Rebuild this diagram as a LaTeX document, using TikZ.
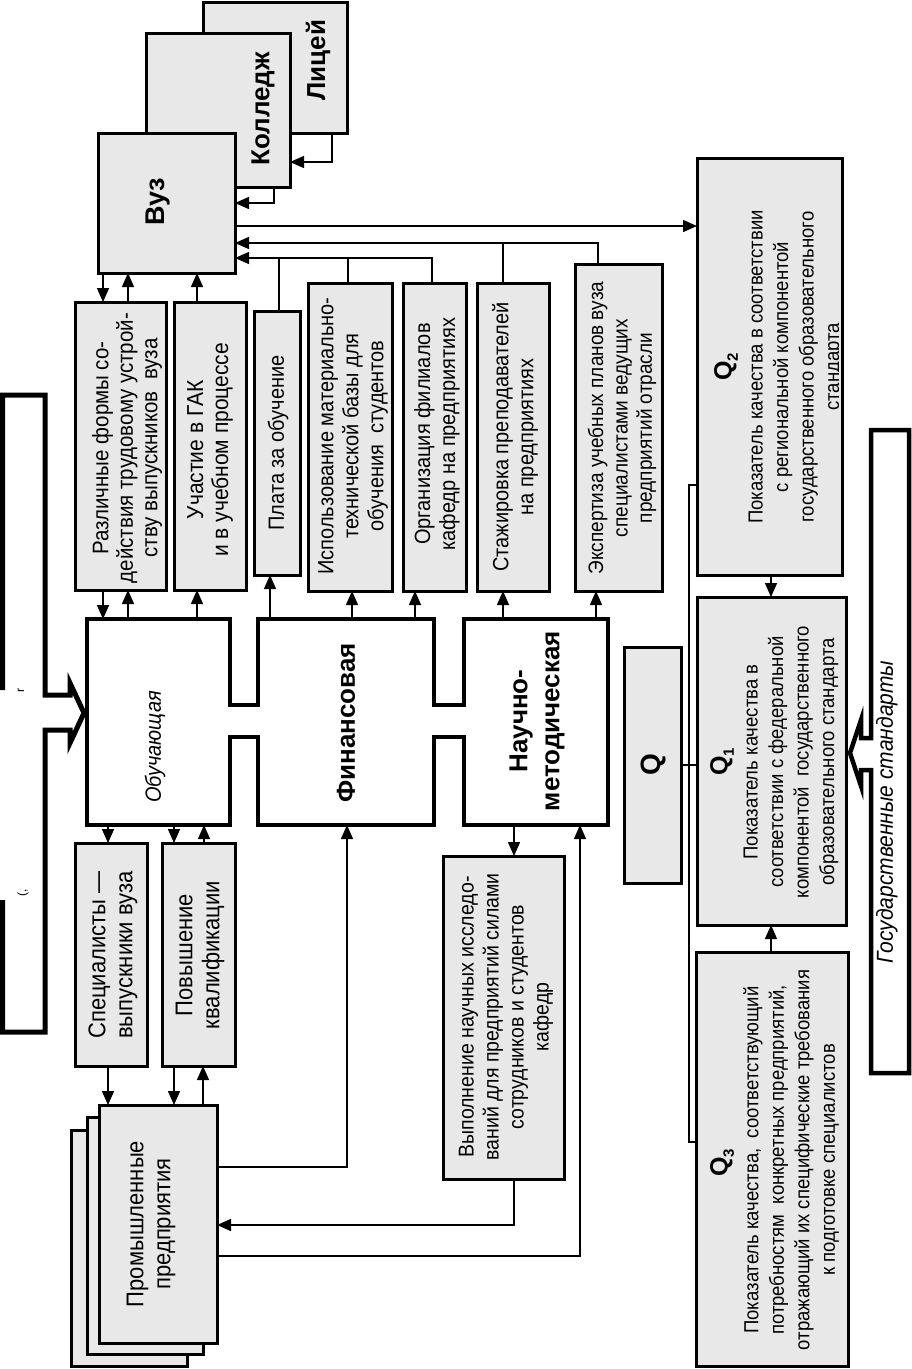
\documentclass[tikz,border=0pt]{standalone}
\usepackage{fontspec}
\setmainfont{Liberation Sans}
\usetikzlibrary{arrows.meta}
\definecolor{boxgray}{RGB}{232,232,232}
\begin{document}
\begin{tikzpicture}[x=1pt,y=-1pt,
  gbox/.style={draw, line width=3pt, fill=boxgray, inner sep=0pt, outer sep=0pt},
  ghost/.style={inner sep=0pt, outer sep=0pt},
  lbl/.style={rotate=90, yscale=1.1, align=center, inner sep=0pt, font=\fontsize{20}{22.7}\selectfont},
  qlbl/.style={rotate=90, yscale=1.1, align=center, inner sep=0pt, font=\fontsize{18.5}{23.2}\selectfont},
  bigl/.style={rotate=90, align=center, inner sep=0pt, font=\fontsize{26}{31}\selectfont\bfseries},
  qsym/.style={rotate=90, inner sep=0pt, font=\fontsize{25}{30}\selectfont\bfseries},
  arr/.style={line width=1.4pt, -{Triangle[length=14pt,width=12pt]}},
  conn/.style={line width=1.4pt},
  heavy/.style={line width=4.5pt, line join=miter}
]
\useasboundingbox (0,0) rectangle (912,1369);

% ---------- big outer frames ----------
\draw[line width=5pt, line join=miter] (2.5,690) -- (2.5,395) -- (45,395) -- (45,695) -- (70,695) -- (70,683) -- (84,713) -- (70,743) -- (70,730) -- (45,730) -- (45,1032) -- (2.5,1032) -- (2.5,900);
\node[rotate=90, inner sep=0pt, font=\fontsize{12}{12}\selectfont] (frag1) at (21,690) {r};
\node[rotate=90, inner sep=0pt, font=\fontsize{12}{12}\selectfont] (frag2) at (23,893) {(,};

\draw[line width=4.5pt, line join=miter, fill=white] (871,738) -- (871,430) -- (909,430) -- (909,1073) -- (871,1073) -- (871,770) -- (861,770) -- (861,786) -- (850,753) -- (861,720) -- (861,738) -- cycle;
\node[rotate=90, yscale=1.1, inner sep=0pt, font=\fontsize{21}{25}\selectfont\itshape] (gosT) at (887,812) {Государственные стандарты};

% ---------- top institutions ----------
\node[gbox, minimum width=144pt, minimum height=131pt] (licey) at (275,67.5) {};
\node[bigl] (liceyT) at (318,60) {Лицей};
\node[gbox, minimum width=144pt, minimum height=154pt] (kolledzh) at (218,110) {};
\node[bigl] (kolledzhT) at (263,109) {Колледж};
\node[gbox, minimum width=137pt, minimum height=140pt] (vuz) at (166.5,203) {};
\node[bigl, font=\fontsize{27}{31}\selectfont\bfseries] (vuzT) at (158,202) {Вуз};

% ---------- upper row of boxes ----------
\node[gbox, minimum width=91pt, minimum height=288pt] (razl) at (120.5,446) {};
\node[lbl, font=\fontsize{20.5}{22.2}\selectfont] (razlT) at (127,448) {Различные формы со-\\действия трудовому устрой-\\ству выпускников\ \ вуза};
\node[gbox, minimum width=72pt, minimum height=288pt] (uchast) at (210,446) {};
\node[lbl, font=\fontsize{21}{22.7}\selectfont] (uchastT) at (210,450) {Участие в ГАК\\и в учебном процессе};
\node[gbox, minimum width=46pt, minimum height=264pt] (plata) at (277,443) {};
\node[lbl] (plataT) at (278,443) {Плата за обучение};
\node[gbox, minimum width=84pt, minimum height=308pt] (ispol) at (350,437) {};
\node[lbl] (ispolT) at (353,436) {Использование материально-\\технической базы для\\обучения\ \ студентов};
\node[gbox, minimum width=63pt, minimum height=308pt] (organ) at (434.5,437) {};
\node[lbl] (organT) at (437,434) {Организация филиалов\\кафедр на предприятиях};
\node[gbox, minimum width=72pt, minimum height=308pt] (stazh) at (513,437) {};
\node[lbl] (stazhT) at (515,437) {Стажировка преподавателей\\на предприятиях};
\node[gbox, minimum width=87pt, minimum height=327pt] (ekspert) at (618.5,427.5) {};
\node[lbl, font=\fontsize{19}{22.2}\selectfont] (ekspertT) at (622,428) {Экспертиза учебных планов вуза\\специалистами ведущих\\предприятий отрасли};

% ---------- central functions ----------
\node[ghost, minimum width=143pt, minimum height=206pt] (obuch) at (158.5,722) {};
\node[ghost, minimum width=176pt, minimum height=206pt] (fin) at (346,722) {};
\node[ghost, minimum width=144pt, minimum height=206pt] (nauch) at (536,722) {};
\draw[heavy, fill=white] (obuch.north west) -- (obuch.north east) -- (obuch.east |- 0,705) -- (fin.west |- 0,705) -- (fin.north west) -- (fin.north east) -- (fin.east |- 0,705) -- (nauch.west |- 0,705) -- (nauch.north west) -- (nauch.north east) -- (nauch.south east) -- (nauch.south west) -- (nauch.west |- 0,737) -- (fin.east |- 0,737) -- (fin.south east) -- (fin.south west) -- (fin.west |- 0,737) -- (obuch.east |- 0,737) -- (obuch.south east) -- (obuch.south west) -- cycle;
\node[lbl, font=\fontsize{20}{22.7}\selectfont\itshape] (obuchT) at (155,747) {Обучающая};
\node[bigl] (finT) at (346,723) {Финансовая};
\node[bigl, font=\fontsize{26}{32}\selectfont\bfseries] (nauchT) at (537,721) {Научно-\\методическая};

% ---------- lower boxes ----------
\node[gbox, minimum width=72pt, minimum height=223pt] (spec) at (111,954.5) {};
\node[lbl, font=\fontsize{22}{24.5}\selectfont] (specT) at (113,955) {Специалисты —\\выпускники вуза};
\node[gbox, minimum width=73pt, minimum height=223pt] (povysh) at (198.5,954.5) {};
\node[lbl, font=\fontsize{22}{24.5}\selectfont] (povyshT) at (200,955) {Повышение\\квалификации};
\node[gbox, minimum width=116pt, minimum height=236pt] (prom3) at (129,1248) {};
\node[gbox, minimum width=116pt, minimum height=237pt] (prom2) at (145,1235.5) {};
\node[gbox, minimum width=118pt, minimum height=238pt] (prom1) at (158,1224) {};
\node[lbl, font=\fontsize{22}{24.5}\selectfont] (promT) at (151,1224) {Промышленные\\предприятия};
\node[gbox, minimum width=121pt, minimum height=323pt] (vyp) at (503.5,1017.5) {};
\node[lbl, font=\fontsize{19.5}{22.7}\selectfont] (vypT) at (506,1017) {Выполнение научных исследо-\\ваний для предприятий силами\\сотрудников и студентов\\кафедр};

% ---------- quality indicators ----------
\node[gbox, minimum width=145pt, minimum height=417pt] (q2) at (769.5,366.5) {};
\node[qsym] (q2Q) at (726,367) {Q\raisebox{-0.25em}{\fontsize{15}{15}\selectfont 2}};
\begin{scope}
\clip (699,160) rectangle (838,573);
\node[qlbl] (q2T) at (796,367) {Показатель качества в соответствии\\с региональной компонентой\\государственного образовательного\\стандарта};
\end{scope}
\node[gbox, minimum width=149pt, minimum height=328pt] (q1) at (771.5,761) {};
\node[qsym] (q1Q) at (722,762) {Q\raisebox{-0.25em}{\fontsize{15}{15}\selectfont 1}};
\node[qlbl] (q1T) at (791,762) {Показатель качества в\\соответствии с федеральной\\компонентой\ \ государственного\\образовательного стандарта};
\node[gbox, minimum width=57pt, minimum height=236pt] (q) at (652.5,765) {};
\node[qsym, font=\fontsize{28}{30}\selectfont\bfseries] (qT) at (653,765) {Q};
\node[gbox, minimum width=152pt, minimum height=414pt] (q3) at (772,1159) {};
\node[qsym] (q3Q) at (722,1163) {Q\raisebox{-0.25em}{\fontsize{15}{15}\selectfont 3}};
\node[qlbl] (q3T) at (791,1160) {Показатель качества,\ \ соответствующий\\потребностям\ \ конкретных предприятий,\\отражающий их специфические требования\\к подготовке специалистов};

% ---------- connectors: top ----------
\draw[arr] (licey.south -| 332,0) |- (kolledzh.east |- 0,162);
\draw[arr] (kolledzh.south -| 274,0) |- (vuz.east |- 0,203);
\draw[arr] (vuz.east |- 0,226) -- (q2.west |- 0,226);
\draw[arr] (ekspert.north -| 598,0) |- (vuz.east |- 0,243);
\draw[conn] (stazh.north -| 503,0) -- (503,243);
\draw[arr] (organ.north -| 432,0) |- (vuz.east |- 0,258);
\draw[conn] (ispol.north -| 348,0) -- (348,258);
\draw[conn] (plata.north -| 279,0) -- (279,258);

\draw[arr] (vuz.south -| 103,0) -- (razl.north -| 103,0);
\draw[arr] (razl.north -| 128,0) -- (vuz.south -| 128,0);
\draw[arr] (uchast.north -| 197,0) -- (vuz.south -| 197,0);

\draw[arr] (razl.south -| 103,0) -- (obuch.north -| 103,0);
\draw[arr] (obuch.north -| 128,0) -- (razl.south -| 128,0);
\draw[arr] (obuch.north -| 197,0) -- (uchast.south -| 197,0);
\draw[arr] (fin.north -| 270,0) -- (plata.south -| 270,0);
\draw[arr] (fin.north -| 352,0) -- (ispol.south -| 352,0);
\draw[arr] (fin.north -| 415,0) -- (organ.south -| 415,0);
\draw[arr] (nauch.north -| 503,0) -- (stazh.south -| 503,0);
\draw[arr] (nauch.north -| 596,0) -- (ekspert.south -| 596,0);

% ---------- connectors: bottom ----------
\draw[arr] (obuch.south -| 108,0) -- (spec.north -| 108,0);
\draw[arr] (obuch.south -| 174,0) -- (povysh.north -| 174,0);
\draw[arr] (povysh.north -| 204,0) -- (obuch.south -| 204,0);
\draw[arr] (spec.south -| 108,0) -- (prom1.north -| 108,0);
\draw[arr] (povysh.south -| 174,0) -- (prom1.north -| 174,0);
\draw[arr] (prom1.north -| 203,0) -- (povysh.south -| 203,0);
\draw[arr] (prom1.east |- 0,1167) -| (fin.south -| 347,0);
\draw[arr] (nauch.south -| 514,0) -- (vyp.north -| 514,0);
\draw[arr] (vyp.south -| 514,0) |- (prom1.east |- 0,1225);
\draw[arr] (prom1.east |- 0,1256) -| (nauch.south -| 580,0);

% ---------- connectors: quality ----------
\draw[conn] (q.east) -- (q1.west |- q.east);
\draw[conn] (q2.west |- 0,485) -- ++(-8,0) |- (q3.west |- 0,1142);
\draw[arr] (q2.south -| 771,0) -- (q1.north -| 771,0);
\draw[arr] (q3.north -| 771,0) -- (q1.south -| 771,0);
\end{tikzpicture}
\end{document}
